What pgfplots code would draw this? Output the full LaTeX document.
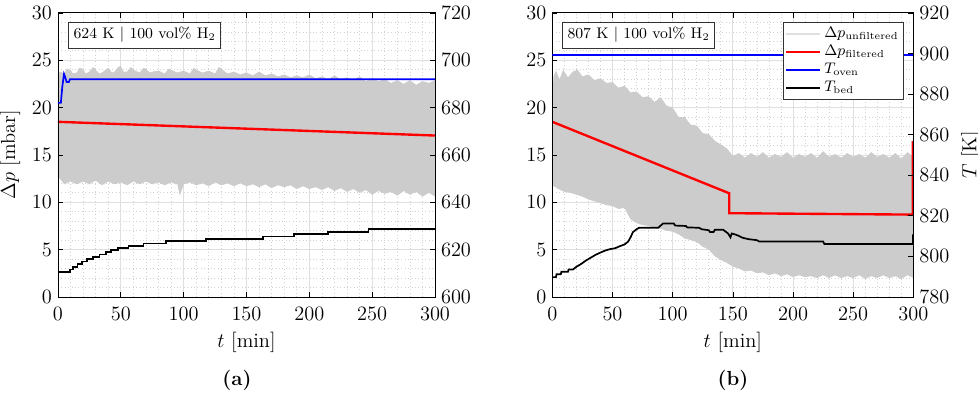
\documentclass[border=0pt]{standalone}
\usepackage{pgfplots}
\pgfplotsset{compat=1.18}
\begin{document}
\begin{tikzpicture}
\pgfplotsset{
 panel/.style={scale only axis, height=167.1pt, xmin=0, xmax=300, ymin=0, ymax=30,
   xtick={0,50,...,300}, ytick={0,5,...,30}, tick align=inside, major tick length=3pt,
   tick style={black, line width=0.4pt}, axis line style={black, line width=0.5pt}, anchor=south west,
   tick label style={font=\large}, label style={font=\large}, xticklabel style={yshift=-2.5pt}},
 gridax/.style={panel, minor x tick num=4, minor y tick num=4, grid=both,
   major grid style={gray!25, line width=0.5pt}, minor grid style={gray!35, dash pattern=on 0.6pt off 1.4pt, line width=0.4pt},
   xticklabels={}, yticklabels={}, major tick length=0pt, minor tick length=0pt, axis line style={draw=none}},
 dpax/.style={panel, axis on top, xtick pos=both, ytick pos=left, xlabel={$t$ [min]}},
 tax/.style={scale only axis, height=167.1pt, xmin=0, xmax=300, axis x line=none, axis y line*=right,
   tick align=inside, major tick length=3pt, tick style={black, line width=0.4pt},
   axis line style={black, line width=0.5pt}, anchor=south west,
   tick label style={font=\large}, label style={font=\large}},
}
\path[use as bounding box] (0,0) rectangle (575.3pt,233pt);

% ---------------- panel (a) ----------------
\begin{axis}[gridax, at={(34.1pt,58.3pt)}, width=221.8pt]
\end{axis}
\begin{axis}[dpax, at={(34.1pt,58.3pt)}, width=221.8pt, ylabel={$\Delta p$ [mbar]}]
\addplot[fill=gray!40, draw=none] coordinates {
(0,23.6) (2,23.8) (5,23.6) (7,24.1) (10,24.0) (12,23.6) (15,23.7) (17,24.2) (20,24.1) (22,23.6) (25,23.8) (28,24.3) (30,24.0) (33,23.6) (35,23.7) (40,24.2)
(43,23.7) (45,23.8) (48,24.3) (50,24.4) (52,23.8) (55,23.8) (58,24.3) (60,24.0) (65,23.7) (68,24.2) (70,24.1) (73,23.7) (75,23.8) (80,23.9) (85,23.6) (88,24.1) (90,24.0)
(95,23.7) (100,23.9) (105,23.6) (108,24.2) (110,24.0) (115,23.7) (120,23.9) (125,23.6) (128,24.3) (130,24.1) (135,23.6) (140,23.8)
(145,23.5) (150,23.7) (155,23.4) (160,23.8) (165,23.4) (170,23.6) (175,23.3) (180,23.5) (185,23.2) (190,23.4)
(195,23.2) (200,23.5) (205,23.1) (210,23.3) (215,23.0) (220,23.4) (225,23.0) (230,23.2) (235,22.9) (240,23.3)
(245,22.8) (250,23.1) (255,22.8) (260,23.0) (265,22.6) (270,22.9) (275,22.5) (280,22.9) (285,22.4) (290,22.8)
(295,22.6) (300,22.9)
(300,10.6) (295,11.0) (290,10.6) (285,11.1) (280,10.8) (275,11.2) (270,10.7) (265,11.1) (260,10.9) (255,11.2)
(250,10.8) (245,11.3) (240,11.0) (235,11.4) (230,11.1) (225,11.5) (220,11.2) (215,11.6) (210,11.3) (205,11.6)
(200,11.4) (195,11.7) (190,11.4) (185,11.8) (180,11.6) (175,11.8) (170,11.5) (165,11.9) (160,11.6) (155,11.9)
(150,11.7) (145,12.0) (140,11.7) (135,12.0) (130,11.8) (125,12.1) (120,11.7) (115,12.0) (110,11.8) (105,12.1)
(100,11.9) (97,10.7) (95,11.9) (90,12.1) (85,11.8) (80,12.1) (75,11.9) (70,12.2) (65,11.9) (60,12.2)
(55,11.8) (50,12.1) (45,11.9) (40,12.2) (35,11.8) (30,12.3) (25,11.9) (20,12.2) (15,11.9) (10,12.2)
(5,11.9) (2,12.4) (0,12.7)
};
\addplot[red, line width=1.4pt] coordinates {(0,18.5) (300,17.05)};
\node[draw=black!80, fill=white, anchor=north west, font=\small, inner sep=3pt] at (rel axis cs:0.027,0.968) {624 K $|$ 100 vol\% H$_2$};
\end{axis}
\begin{axis}[tax, at={(34.1pt,58.3pt)}, width=221.8pt, ymin=600, ymax=720, ytick={600,620,...,720}]
\addplot[blue, line width=1pt] coordinates {(0,682.0) (2.3,682.0) (3.5,689.0) (4.8,694.2) (5.8,692.8) (6.9,690.8) (8.7,690.8) (9.5,692.0) (300,692.0)};
\addplot[black, line width=1pt, const plot] coordinates {
(0,610.6) (9.3,611.6) (12,612.6) (15.5,613.8) (19,615.0) (23,616.0) (28,617.0) (33,618.0) (38,619.0)
(42,619.8) (48,620.6) (56,621.6) (68,622.6) (86,623.6) (118,624.6) (163,625.6) (188,626.6) (215,627.6)
(247,628.6) (300,628.6)};
\end{axis}

% ---------------- panel (b) ----------------
\begin{axis}[gridax, at={(324.9pt,58.3pt)}, width=212.4pt]
\end{axis}
\begin{axis}[dpax, at={(324.9pt,58.3pt)}, width=212.4pt]
\addplot[fill=gray!40, draw=none] coordinates {
(0,21.0) (1,23.3) (3,23.9) (6,23.0) (9,24.0) (13,23.2) (17,23.8) (21,24.0) (25,23.3) (30,23.5)
(35,22.9) (40,23.1) (45,22.6) (50,22.7) (55,22.1) (60,22.3) (65,21.6) (70,21.7) (75,21.1) (80,21.2)
(85,20.6) (90,21.1) (95,20.2) (100,20.0) (105,19.0) (110,19.0) (115,18.2) (120,18.1) (125,17.3) (130,17.2)
(135,16.5) (140,16.1) (145,15.7) (150,14.9) (155,15.2) (160,14.7) (165,15.2) (170,14.8) (175,15.3) (180,14.7)
(185,15.1) (190,14.8) (195,15.3) (200,14.7) (205,15.1) (210,14.8) (215,15.2) (220,14.7) (225,15.4) (230,14.8)
(235,15.1) (240,14.7) (245,15.2) (250,14.8) (255,15.1) (260,14.7) (265,15.3) (270,14.8) (275,15.1) (280,14.7)
(285,15.2) (290,14.6) (295,15.3) (300,14.8)
(300,2.0) (295,2.3) (290,1.9) (285,2.2) (280,2.0) (275,2.3) (270,2.0) (265,2.2) (260,1.9) (255,2.3)
(250,2.0) (245,2.2) (240,2.0) (235,2.3) (230,2.0) (225,2.3) (220,2.0) (215,2.2) (210,2.1) (205,2.3)
(200,2.1) (195,2.4) (190,2.2) (185,2.5) (180,2.3) (175,2.6) (170,2.5) (165,2.8) (160,2.7) (155,3.0)
(150,3.2) (145,3.6) (140,3.9) (135,4.3) (130,5.0) (125,5.3) (120,5.8) (115,6.0) (110,6.2) (105,6.6)
(100,6.9) (95,7.0) (90,7.2) (85,7.3) (80,7.5) (75,7.6) (70,7.8) (65,8.2) (62,8.9) (60,9.4)
(55,9.3) (50,9.6) (45,9.7) (40,9.9) (35,10.1) (30,10.3) (25,10.6) (20,10.8) (15,11.0) (10,11.1)
(5,11.4) (0,11.8)
};
\addplot[red, line width=1.4pt] coordinates {(0,18.5) (147,10.95) (147,8.85) (299.6,8.7) (299.6,16.45)};
\node[draw=black!80, fill=white, anchor=north west, font=\small, inner sep=3pt] at (rel axis cs:0.027,0.968) {807 K $|$ 100 vol\% H$_2$};
\end{axis}
\begin{axis}[tax, at={(324.9pt,58.3pt)}, width=212.4pt, ymin=780, ymax=920, ytick={780,800,...,920},
  ylabel={$T$ [K]},
  legend style={at={(0.974,0.969)}, anchor=north east, draw=black!80, fill=white, font=\small, inner sep=1pt, row sep=-1pt},
  legend cell align=left,
  legend image code/.code={\draw[#1] (0cm,0cm) -- (0.7cm,0cm);}]
\addlegendimage{gray!25, line width=1pt}
\addlegendentry{$\Delta p_{\mathrm{unfiltered}}$}
\addlegendimage{red, line width=1.4pt}
\addlegendentry{$\Delta p_{\mathrm{filtered}}$}
\addlegendimage{blue, line width=1pt}
\addlegendentry{$T_{\mathrm{oven}}$}
\addlegendimage{black, line width=1pt}
\addlegendentry{$T_{\mathrm{bed}}$}
\addplot[blue, line width=1pt, forget plot] coordinates {(0,899.4) (300,899.4)};
\addplot[black, line width=1pt, forget plot] coordinates {
(0,789.8) (3,789.8) (3.5,791.2) (7,791.2) (7.5,792.4) (13,792.4) (13.5,793.5) (17,793.5) (20,794.9) (24,796.3)
(28,798.0) (32,799.4) (36,800.8) (40,801.9) (44,802.9) (48,803.6) (52,804.0) (56,805.0) (60,805.9) (63,807.3)
(65,809.4) (67,812.0) (70,813.4) (72,814.1) (88,814.1) (90,815.2) (92,816.2) (101,816.2) (102,815.2) (111,815.0)
(112,814.3) (122,814.1) (124,813.4) (130,812.9) (131,812.0) (134,812.0) (135,813.1) (142,813.1) (144,812.2)
(146,811.3) (148,809.4) (149,811.3) (152,810.8) (155,810.1) (158,809.2) (163,808.5) (170,808.0) (172,807.3)
(225,807.3) (226,806.1) (299.6,806.1) (299.6,810.8)};
\end{axis}

\node[font=\large\bfseries] at (139.4pt,9.5pt) {(a)};
\node[font=\large\bfseries] at (431.2pt,9.5pt) {(b)};
\end{tikzpicture}
\end{document}
